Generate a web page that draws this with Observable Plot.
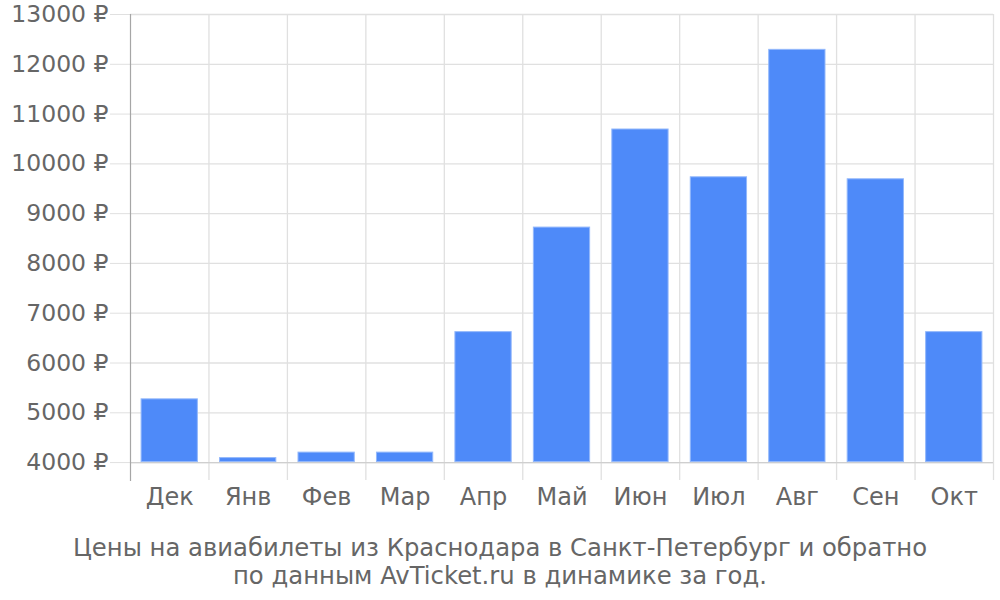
<!DOCTYPE html>
<html>
<head>
<meta charset="utf-8">
<script src="https://cdn.jsdelivr.net/npm/d3@7"></script>
<script src="https://cdn.jsdelivr.net/npm/@observablehq/plot@0.6"></script>
<style>
  body { margin: 0; background: #fff; font-family: "DejaVu Sans", sans-serif; }
  #caption { width: 1000px; text-align: center; color: #666; font-size: 24.3px; line-height: 28px; margin-top: 9px; }
</style>
</head>
<body>
<div id="chart"></div>
<div id="caption">Цены на авиабилеты из Краснодара в Санкт-Петербург и обратно<br>по данным AvTicket.ru в динамике за год.</div>
<script>
const months = ["Дек", "Янв", "Фев", "Мар", "Апр", "Май", "Июн", "Июл", "Авг", "Сен", "Окт"];
const prices = [5280, 4100, 4210, 4210, 6630, 8730, 10700, 9740, 12300, 9700, 6630];
const yTicks = [4000, 5000, 6000, 7000, 8000, 9000, 10000, 11000, 12000, 13000];
const baseline = 4000;

const data = months.map((m, i) => ({month: m, price: prices[i]}));

const width = 1000, height = 525;
const marginLeft = 130, marginRight = 7;
const step = (width - marginLeft - marginRight) / months.length;

const chart = Plot.plot({
  width, height,
  marginLeft, marginRight,
  marginTop: 14, marginBottom: 45,
  style: {fontFamily: "DejaVu Sans, sans-serif", fontSize: "24px", color: "#666", background: "#fff"},
  x: {domain: months, paddingInner: 0.27, paddingOuter: 0.135, round: false, label: null},
  y: {domain: [3640, 13000], label: null},
  marks: [
    Plot.ruleY(yTicks, {stroke: "#e0e0e0", strokeWidth: 1.3}),
    Plot.ruleX(months.slice(1), {x: d => d, dx: -step / 2, y1: 3640, y2: 13000, stroke: "#e0e0e0", strokeWidth: 1.3}),
    Plot.ruleX([months[months.length - 1]], {x: d => d, dx: step / 2, y1: 3640, y2: 13000, stroke: "#e0e0e0", strokeWidth: 1.3}),
    Plot.ruleY([baseline], {stroke: "#cfcfcf", strokeWidth: 1.3}),
    Plot.axisY({ticks: yTicks, tickSize: 20, tickPadding: 2, stroke: "#e0e0e0", tickFormat: d => `${d} ₽`, fill: "#666", fontSize: "23.5px", label: null}),
    Plot.axisX({tickSize: 0, tickPadding: 7, fill: "#666", label: null}),
    Plot.barY(data, {x: "month", y1: baseline, y2: "price", fill: "#4e8af9", stroke: "#93b8fb", strokeWidth: 1, inset: 0.5}),
    Plot.frame({anchor: "left", stroke: "#a6a6a6", strokeWidth: 1.2})
  ]
});
document.getElementById("chart").appendChild(chart);
</script>
</body>
</html>
